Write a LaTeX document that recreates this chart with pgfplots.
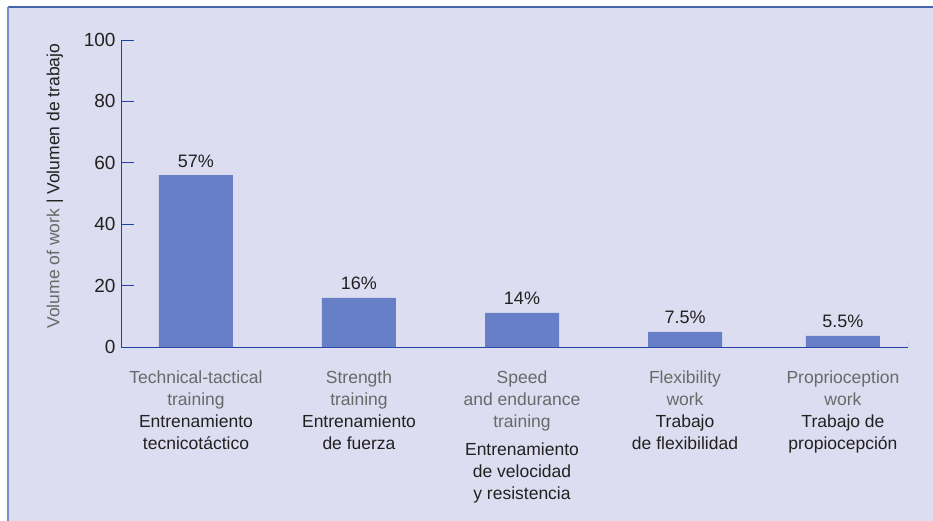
\documentclass[border=0pt]{standalone}
\usepackage{pgfplots}
\pgfplotsset{compat=1.18}
\usepackage{fontspec}
\setmainfont{Liberation Sans}

\definecolor{bgcol}{RGB}{220,221,240}
\definecolor{barcol}{RGB}{103,127,199}
\definecolor{axiscol}{RGB}{35,65,165}
\definecolor{topline}{RGB}{70,100,170}
\definecolor{leftline}{RGB}{115,145,210}
\definecolor{engcol}{RGB}{105,105,105}
\definecolor{spacol}{RGB}{35,32,32}

\newcommand{\en}[1]{\textcolor{engcol}{#1}}
\newcommand{\es}[1]{\textcolor{spacol}{#1}}

\begin{document}
\begin{tikzpicture}
  \useasboundingbox (0pt,0pt) rectangle (933pt,-521pt);
  \fill[white] (0pt,0pt) rectangle (933pt,-521pt);
  \fill[bgcol] (8pt,-7pt) rectangle (933pt,-521pt);
  \draw[topline, line width=1.5pt] (8pt,-7pt) -- (933pt,-7pt);
  \draw[leftline, line width=1.5pt] (8pt,-7pt) -- (8pt,-521pt);
  \begin{axis}[
    at={(121pt,-347pt)}, anchor=south west,
    scale only axis,
    width=787pt, height=307pt,
    xmin=-0.46, xmax=4.368,
    ymin=0, ymax=100,
    axis x line=bottom, axis y line=left,
    axis line style={-, axiscol, line width=1pt},
    ytick={0,20,40,60,80,100},
    /pgf/number format/assume math mode=true,
    tick align=inside,
    major tick length=13pt,
    y tick style={axiscol, line width=1pt},
    x tick style={draw=none},
    yticklabel style={font=\fontsize{19}{22}\selectfont, text=spacol, xshift=-2pt},
    xtick={0,1,2,3,3.969},
    xticklabels={
      {\en{Technical-tactical}\\\en{training}\\\es{Entrenamiento}\\\es{tecnicotáctico}},
      {\en{Strength}\\\en{training}\\\es{Entrenamiento}\\\es{de fuerza}},
      {\en{Speed}\\\en{and endurance}\\\en{training}\\[6pt]\es{Entrenamiento}\\\es{de velocidad}\\\es{y resistencia}},
      {\en{Flexibility}\\\en{work}\\\es{Trabajo}\\\es{de flexibilidad}},
      {\en{Proprioception}\\\en{work}\\\es{Trabajo de}\\\es{propiocepción}}
    },
    xticklabel style={align=center, font=\fontsize{17.5}{22}\selectfont, yshift=-20pt},
    ylabel={\en{Volume of work }\es{| Volumen de trabajo}},
    ylabel style={at={(axis description cs:-0.084,0.524)}, anchor=center, font=\fontsize{17.5}{20}\selectfont},
    nodes near coords,
    point meta=explicit symbolic,
    every node near coord/.append style={font=\fontsize{18}{20}\selectfont, text=spacol, anchor=base, inner sep=0pt, yshift=8pt},
  ]
    \addplot[ybar, bar width=74pt, fill=barcol, draw=none]
      coordinates {
        (0,56.0) [57\%]
        (1,16.0) [16\%]
        (2,11.1) [14\%]
        (3,4.9) [7.5\%]
        (3.969,3.6) [5.5\%]
      };
    \draw[axiscol, line width=1pt] (axis cs:4.368,0) -- ++(0pt,6pt);
  \end{axis}
\end{tikzpicture}
\end{document}
